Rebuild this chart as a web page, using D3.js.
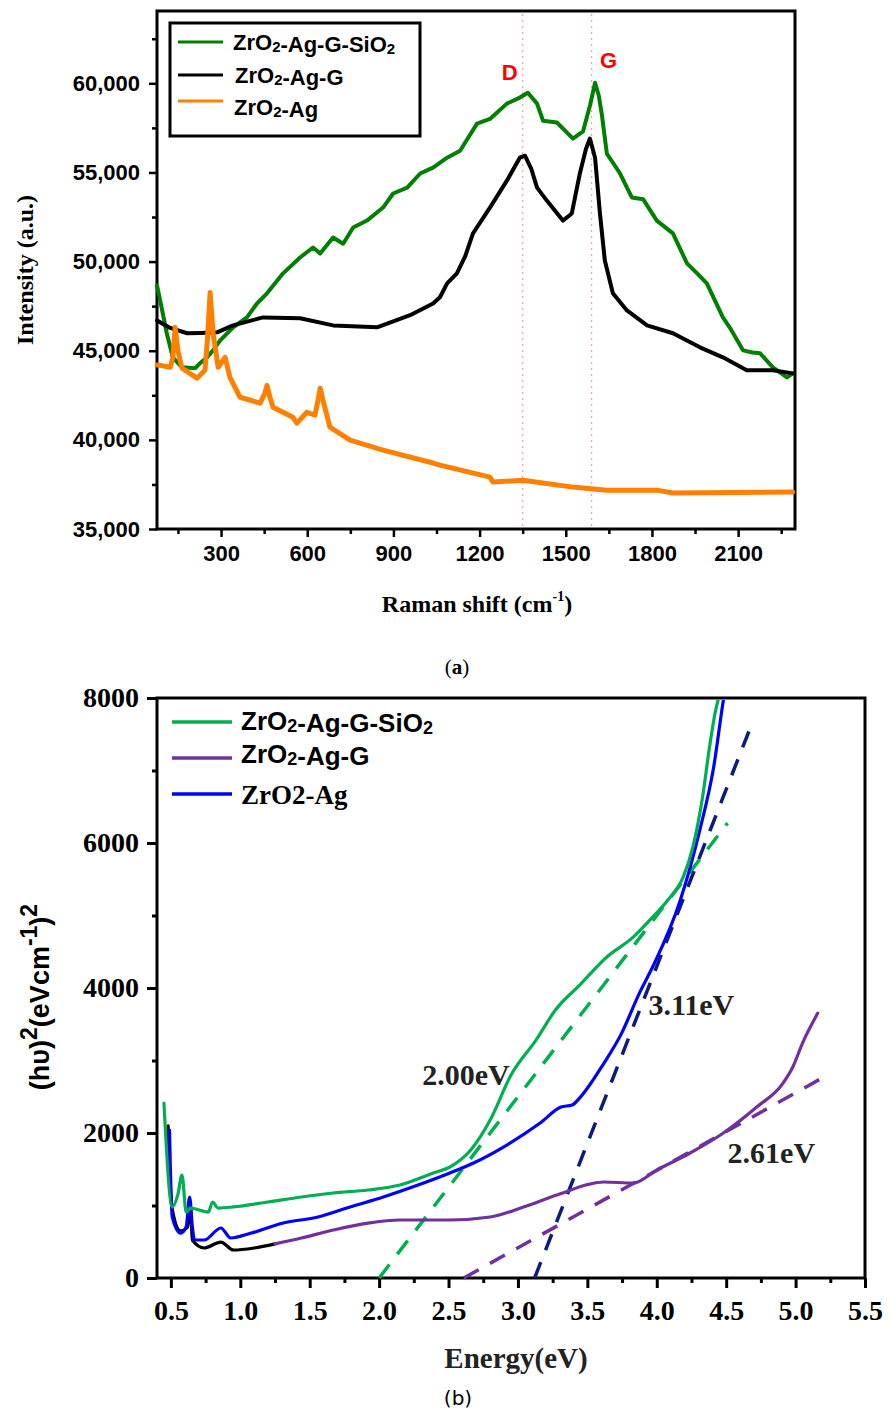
<!DOCTYPE html>
<html><head><meta charset="utf-8">
<script src="https://cdn.jsdelivr.net/npm/d3@7"></script>
<style>body{margin:0;background:#fff}svg{display:block}</style>
</head><body>
<script>
// ================= DATA =================
// (a) Raman spectra
const ramanXTicks = [300, 600, 900, 1200, 1500, 1800, 2100];
const ramanXMinor = [150, 450, 750, 1050, 1350, 1650, 1950, 2250];
const ramanYTicks = [35000, 40000, 45000, 50000, 55000, 60000];
const ramanYMinor = [37500, 42500, 47500, 52500, 57500, 62500];
const ramanNames = ["ZrO2-Ag-G-SiO2", "ZrO2-Ag-G", "ZrO2-Ag"];
const ramanSiO2 = [[77,48660],[88,47820],[111,45980],[132,44630],[164,44070],[210,44020],[227,44300],[251,44630],[272,45020],[297,45580],[342,46310],[390,46870],[425,47650],[460,48220],[516,49340],[575,50230],[620,50790],[645,50450],[690,51350],[725,51000],[760,51910],[808,52300],[864,53030],[899,53820],[948,54150],[993,54940],[1038,55270],[1087,55830],[1132,56220],[1191,57740],[1236,58000],[1295,58860],[1340,59200],[1368,59470],[1400,58860],[1421,57900],[1469,57800],[1500,57300],[1525,56900],[1560,57300],[1585,58800],[1602,60030],[1615,59300],[1626,58200],[1643,56060],[1689,54940],[1730,53600],[1769,53500],[1817,52300],[1873,51580],[1922,49900],[1960,49300],[1991,48780],[2047,46870],[2071,46300],[2117,45020],[2150,44900],[2176,44860],[2221,44070],[2270,43500],[2290,43730]];
const ramanAgG = [[77,46700],[120,46300],[182,45980],[230,46000],[286,46030],[342,46420],[446,46870],[575,46820],[690,46420],[843,46310],[958,46990],[1038,47650],[1062,48000],[1087,48780],[1121,49340],[1150,50300],[1177,51580],[1236,53030],[1295,54540],[1340,55830],[1358,55940],[1380,55200],[1400,54150],[1434,53420],[1490,52300],[1521,52700],[1549,54940],[1570,56300],[1584,56900],[1602,55830],[1619,52700],[1636,50060],[1664,48220],[1713,47260],[1783,46420],[1873,45980],[1967,45190],[2047,44630],[2130,43900],[2221,43900],[2290,43730]];
const ramanAg = [[77,44200],[88,44180],[123,44070],[132,44600],[140,46310],[150,45000],[164,44020],[216,43460],[244,43900],[252,45500],[262,48270],[272,46000],[290,44070],[314,44630],[331,43500],[366,42390],[436,42060],[452,42600],[460,43060],[470,42400],[481,41830],[550,41270],[564,40940],[599,41550],[627,41380],[637,42200],[645,42900],[655,42200],[679,40710],[749,39980],[864,39420],[1038,38700],[1062,38580],[1236,37910],[1247,37630],[1351,37740],[1525,37350],[1643,37180],[1817,37180],[1873,37020],[2290,37070]];
const peakLabels = ["D", "G"];
const peakPositions = [1350, 1590];

// (b) Tauc plot
const energyTicks = [0.5, 1.0, 1.5, 2.0, 2.5, 3.0, 3.5, 4.0, 4.5, 5.0, 5.5];
const energyMinor = [0.75, 1.25, 1.75, 2.25, 2.75, 3.25, 3.75, 4.25, 4.75, 5.25];
const taucYTicks = [0, 2000, 4000, 6000, 8000];
const taucYMinor = [1000, 3000, 5000, 7000];
const taucNames = ["ZrO2-Ag-G-SiO2", "ZrO2-Ag-G", "ZrO2-Ag"];
const taucSiO2 = [[0.45,2414],[0.51,979],[0.55,1150],[0.58,1420],[0.61,910],[0.64,965],[0.77,910],[0.80,1048],[0.84,965],[0.95,980],[1.20,1048],[1.44,1117],[1.67,1172],[1.92,1214],[2.15,1282],[2.39,1448],[2.51,1531],[2.66,1765],[2.80,2179],[2.95,2800],[3.13,3282],[3.27,3696],[3.45,4050],[3.64,4427],[3.83,4702],[3.97,4978],[4.08,5213],[4.19,5530],[4.26,5944],[4.33,6633],[4.38,7323],[4.42,7792],[4.46,8100]];
const taucAgGLow = [[0.48,2100],[0.505,1000],[0.57,650],[0.62,700],[0.64,1000],[0.655,520],[0.74,414],[0.86,496],[0.95,386],[1.10,414],[1.25,470]];
const taucAgG = [[1.25,470],[1.44,552],[1.67,662],[1.92,758],[2.15,800],[2.51,800],[2.80,841],[3.04,979],[3.28,1145],[3.62,1324],[3.83,1310],[4.00,1489],[4.24,1724],[4.48,2000],[4.72,2358],[4.91,2689],[4.98,2910],[5.05,3241],[5.16,3654]];
const taucAg = [[0.49,2041],[0.51,841],[0.57,620],[0.61,703],[0.635,1117],[0.655,700],[0.67,524],[0.74,524],[0.86,690],[0.93,552],[1.08,620],[1.31,758],[1.56,841],[1.79,979],[2.03,1117],[2.28,1282],[2.51,1448],[2.68,1586],[2.92,1834],[3.16,2137],[3.31,2358],[3.39,2386],[3.45,2496],[3.62,2965],[3.74,3350],[3.88,3950],[3.97,4289],[4.17,5213],[4.31,6178],[4.41,7047],[4.48,7971],[4.50,8200]];
const fitSiO2 = [[2.00,0],[4.51,6275]];
const fitAg = [[3.12,0],[4.69,7668]];
const fitAgG = [[2.61,0],[5.23,2800]];
const gapLabels = ["2.00eV", "3.11eV", "2.61eV"];
const gapLabelAnchors = [[2.31,2660],[3.94,3630],[4.51,1590]];

// ================= DRAW =================
const W = 891, H = 1417;
const svg = d3.select("body").append("svg").attr("width", W).attr("height", H);
const SANS = "'Liberation Sans', Arial, sans-serif";
const SERIF = "'Liberation Serif', 'Times New Roman', serif";

function subText(sel, str, big, small, dyDown) {
  const parts = str.split(/(O2)/);
  parts.forEach(p => {
    if (p === "O2") {
      sel.append("tspan").attr("font-size", big).text("O");
      sel.append("tspan").attr("font-size", small).attr("dy", dyDown).text("2");
      sel.append("tspan").attr("font-size", big).attr("dy", -dyDown).text("");
    } else if (p) {
      sel.append("tspan").attr("font-size", big).text(p);
    }
  });
}

// ---------- (a) ----------
{
  const L = 157, T = 11, R = 795, B = 529;
  const x = d3.scaleLinear([77, 2298], [L, R]);
  const y = d3.scaleLinear([35000, 64000], [B, T + 1]);
  const g = svg.append("g");

  g.selectAll(".pk").data(peakPositions).join("line")
    .attr("x1", d => x(d)).attr("x2", d => x(d)).attr("y1", T + 3).attr("y2", B - 3)
    .attr("stroke", "#ff9c9c").attr("stroke-width", 1.2).attr("stroke-dasharray", "2,4");

  const yAx = g.append("g").attr("transform", `translate(${L},0)`)
    .call(d3.axisLeft(y).tickValues(ramanYTicks).tickSize(8).tickPadding(9).tickFormat(d3.format(",")));
  const yAxm = g.append("g").attr("transform", `translate(${L},0)`)
    .call(d3.axisLeft(y).tickValues(ramanYMinor).tickSize(5).tickFormat(""));
  const xAx = g.append("g").attr("transform", `translate(0,${B})`)
    .call(d3.axisBottom(x).tickValues(ramanXTicks).tickSize(8).tickPadding(8).tickFormat(d3.format("d")));
  const xAxm = g.append("g").attr("transform", `translate(0,${B})`)
    .call(d3.axisBottom(x).tickValues(ramanXMinor).tickSize(5).tickFormat(""));
  [yAx, yAxm, xAx, xAxm].forEach(a => {
    a.select(".domain").remove();
    a.selectAll("line").attr("stroke", "#000").attr("stroke-width", 2.5);
    a.selectAll("text").attr("font-family", SANS).attr("font-weight", "bold").attr("font-size", 22).attr("fill", "#000");
  });

  g.append("rect").attr("x", L).attr("y", T).attr("width", R - L).attr("height", B - T)
    .attr("fill", "none").attr("stroke", "#000").attr("stroke-width", 3);

  const line = d3.line().x(d => x(d[0])).y(d => y(d[1]));
  const series = [[ramanSiO2, "#008000", 4], [ramanAgG, "#000000", 4], [ramanAg, "#ff8000", 5]];
  series.forEach(([d, c, w]) => {
    g.append("path").datum(d).attr("d", line).attr("fill", "none").attr("stroke", c)
      .attr("stroke-width", w).attr("stroke-linejoin", "round").attr("stroke-linecap", "round");
  });

  const pkOff = [[-13, 80], [17, 68]];
  peakLabels.forEach((t, i) => {
    g.append("text").attr("x", x(peakPositions[i]) + pkOff[i][0]).attr("y", pkOff[i][1])
      .attr("text-anchor", "middle").attr("font-family", SANS).attr("font-weight", "bold")
      .attr("font-size", 22).attr("fill", "#ff0000").text(t);
  });

  g.append("rect").attr("x", 170).attr("y", 23).attr("width", 250).attr("height", 113)
    .attr("fill", "#fff").attr("stroke", "#000").attr("stroke-width", 3);
  const lgY = [42, 75, 101], lgT = [50, 83, 115], lgX = [233, 235, 234];
  const lgC = ["#008000", "#000000", "#ff8000"];
  ramanNames.forEach((n, i) => {
    g.append("line").attr("x1", 178).attr("x2", 223).attr("y1", lgY[i]).attr("y2", lgY[i])
      .attr("stroke", lgC[i]).attr("stroke-width", 3);
    const t = g.append("text").attr("x", lgX[i]).attr("y", lgT[i]).attr("font-family", SANS)
      .attr("font-weight", "bold").attr("fill", "#000");
    subText(t, n, 22, 15, 2);
  });

  g.append("text").attr("transform", `translate(33,${270}) rotate(-90)`).attr("text-anchor", "middle")
    .attr("font-family", SERIF).attr("font-weight", "bold").attr("font-size", 24).text("Intensity (a.u.)");
  const xt = g.append("text").attr("x", 477).attr("y", 612).attr("text-anchor", "middle")
    .attr("font-family", SERIF).attr("font-weight", "bold").attr("font-size", 24);
  xt.append("tspan").text("Raman shift (cm");
  xt.append("tspan").attr("font-size", 14).attr("dy", -11).text("-1");
  xt.append("tspan").attr("dy", 11).text(")");

  const ta = g.append("text").attr("x", 457).attr("y", 674).attr("text-anchor", "middle")
    .attr("font-family", SERIF).attr("font-size", 21);
  ta.append("tspan").text("(");
  ta.append("tspan").attr("font-weight", "bold").text("a");
  ta.append("tspan").text(")");
}

// ---------- (b) ----------
{
  const L = 157, T = 698, R = 865, B = 1278;
  const x = d3.scaleLinear([0.4, 5.5], [L, R]);
  const y = d3.scaleLinear([0, 8000], [B, T]);
  const g = svg.append("g");

  svg.append("clipPath").attr("id", "clipb").append("rect")
    .attr("x", L).attr("y", T + 2).attr("width", R - L).attr("height", B - T);

  const yAx = g.append("g").attr("transform", `translate(${L},0)`)
    .call(d3.axisLeft(y).tickValues(taucYTicks).tickSize(10).tickPadding(8).tickFormat(d3.format("d")));
  const yAxm = g.append("g").attr("transform", `translate(${L},0)`)
    .call(d3.axisLeft(y).tickValues(taucYMinor).tickSize(5).tickFormat(""));
  const xAx = g.append("g").attr("transform", `translate(0,${B})`)
    .call(d3.axisBottom(x).tickValues(energyTicks).tickSize(10).tickPadding(8).tickFormat(d3.format(".1f")));
  const xAxm = g.append("g").attr("transform", `translate(0,${B})`)
    .call(d3.axisBottom(x).tickValues(energyMinor).tickSize(5).tickFormat(""));
  [yAx, yAxm, xAx, xAxm].forEach(a => {
    a.select(".domain").remove();
    a.selectAll("line").attr("stroke", "#000").attr("stroke-width", 3);
    a.selectAll("text").attr("font-family", SERIF).attr("font-weight", "bold").attr("font-size", 28).attr("fill", "#000");
  });
  xAx.selectAll("text").attr("dy", "0.85em");

  g.append("rect").attr("x", L).attr("y", T).attr("width", R - L).attr("height", B - T)
    .attr("fill", "none").attr("stroke", "#000").attr("stroke-width", 3);

  const plot = g.append("g").attr("clip-path", "url(#clipb)");
  const line = d3.line().x(d => x(d[0])).y(d => y(d[1])).curve(d3.curveMonotoneX);
  const straight = d3.line().x(d => x(d[0])).y(d => y(d[1]));

  [[fitSiO2, "#00b050"], [fitAg, "#0d1b80"], [fitAgG, "#7030a0"]].forEach(([d, c]) => {
    plot.append("path").datum(d).attr("d", straight).attr("fill", "none").attr("stroke", c)
      .attr("stroke-width", 3.5).attr("stroke-dasharray", "17,13");
  });

  [[taucAgGLow, "#000000"], [taucAgG, "#7030a0"], [taucAg, "#0000ff"], [taucSiO2, "#00b050"]].forEach(([d, c]) => {
    plot.append("path").datum(d).attr("d", line).attr("fill", "none").attr("stroke", c)
      .attr("stroke-width", 3.2).attr("stroke-linejoin", "round").attr("stroke-linecap", "round");
  });

  gapLabels.forEach((t, i) => {
    g.append("text").attr("x", x(gapLabelAnchors[i][0])).attr("y", y(gapLabelAnchors[i][1]))
      .attr("font-family", SERIF).attr("font-weight", "bold").attr("font-size", 30).attr("fill", "#222").text(t);
  });

  const lgY = [722, 758, 794], lgT = [730, 763, 804];
  const lgC = ["#00b050", "#7030a0", "#0000ff"];
  taucNames.forEach((n, i) => {
    g.append("line").attr("x1", 172).attr("x2", 232).attr("y1", lgY[i]).attr("y2", lgY[i])
      .attr("stroke", lgC[i]).attr("stroke-width", 3.5);
    const t = g.append("text").attr("x", 241).attr("y", lgT[i]).attr("font-weight", "bold").attr("fill", "#000");
    if (i < 2) { t.attr("font-family", SANS); subText(t, n, 26, 18, 2); }
    else { t.attr("font-family", SERIF).attr("font-size", 27).text(n); }
  });

  const yt = g.append("text").attr("transform", `translate(49,${997}) rotate(-90)`).attr("text-anchor", "middle")
    .attr("font-family", SANS).attr("font-weight", "bold").attr("font-size", 27).attr("fill", "#000");
  yt.append("tspan").text("(hυ)");
  yt.append("tspan").attr("font-size", 23).attr("dy", -12).text("2");
  yt.append("tspan").attr("dy", 12).text("(eVcm");
  yt.append("tspan").attr("font-size", 23).attr("dy", -12).text("-1");
  yt.append("tspan").attr("dy", 12).text(")");
  yt.append("tspan").attr("font-size", 23).attr("dy", -12).text("2");

  g.append("text").attr("x", 516).attr("y", 1368).attr("text-anchor", "middle")
    .attr("font-family", SERIF).attr("font-weight", "bold").attr("font-size", 29).attr("fill", "#222").text("Energy(eV)");
  g.append("text").attr("x", 458).attr("y", 1405).attr("text-anchor", "middle")
    .attr("font-family", "'DejaVu Sans', sans-serif").attr("font-size", 20).text("(b)");
}
</script>
</body></html>
